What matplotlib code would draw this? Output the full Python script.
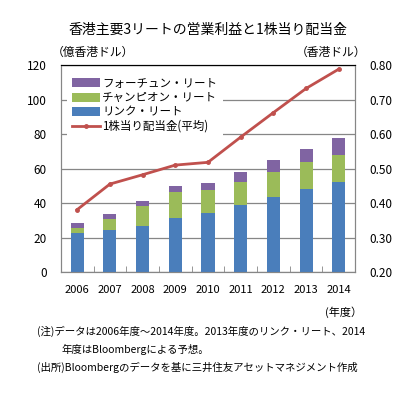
import matplotlib.pyplot as plt
import numpy as np

plt.rcParams['font.family'] = ['Noto Sans CJK JP', 'DejaVu Sans']

# data
years = ['2006', '2007', '2008', '2009', '2010', '2011', '2012', '2013', '2014']
link = [23.0, 24.6, 27.2, 31.8, 34.5, 39.1, 43.8, 48.4, 52.5]
champion = [3.0, 6.4, 11.3, 14.9, 13.5, 13.4, 14.5, 15.7, 15.6]
fortune = [2.5, 3.0, 2.9, 3.4, 3.9, 5.8, 6.9, 7.5, 9.9]
dividend = [0.382, 0.456, 0.483, 0.511, 0.519, 0.592, 0.663, 0.733, 0.789]

blue = '#4a7ebb'
green = '#9bbb59'
purple = '#8064a2'
red = '#c0504d'

fig = plt.figure(figsize=(4.11, 3.96), dpi=100)
ax = fig.add_axes([0.148, 0.312, 0.716, 0.523])
x = np.arange(len(years))
w = 0.4

link_a = np.array(link)
champ_a = np.array(champion)
b1 = ax.bar(x, link, w, color=blue, zorder=3)
b2 = ax.bar(x, champion, w, bottom=link_a, color=green, zorder=3)
b3 = ax.bar(x, fortune, w, bottom=link_a + champ_a, color=purple, zorder=3)

ax.set_xlim(-0.5, 8.5)
ax.set_ylim(0, 120)
ax.set_yticks(range(0, 121, 20))
ax.yaxis.grid(True, color='#868686', linewidth=0.9, zorder=0)
ax.set_xticks(x)
ax.set_xticklabels(years, fontsize=8)
ax.set_xticks(np.arange(0.5, 8.5, 1), minor=True)
ax.tick_params(axis='x', which='major', length=0, pad=9)
ax.tick_params(axis='x', which='minor', direction='in', length=4, color='#868686')
ax.tick_params(axis='y', length=0, labelsize=8.5, pad=10)
for s in ['left', 'bottom', 'right']:
    ax.spines[s].set_color('#868686')
ax.spines['top'].set_color('black')

ax2 = ax.twinx()
ln, = ax2.plot(x, dividend, color=red, linewidth=2, marker='o', markersize=2.5, zorder=4)
ax2.set_ylim(0.2, 0.8)
ax2.set_yticks(np.arange(0.2, 0.81, 0.1))
ax2.set_yticklabels(['%.2f' % v for v in np.arange(0.2, 0.81, 0.1)])
ax2.tick_params(axis='y', length=0, labelsize=8.5, pad=10)
for s in ['left', 'bottom', 'right']:
    ax2.spines[s].set_color('#868686')
ax2.spines['top'].set_color('black')

leg = ax2.legend([b3, b2, b1, ln],
                 ['フォーチュン・リート', 'チャンピオン・リート', 'リンク・リート', '1株当り配当金(平均)'],
                 loc='upper left', bbox_to_anchor=(0.0, 1.0), fontsize=8.3,
                 frameon=True, handlelength=2.4, handleheight=0.8,
                 labelspacing=0.12, handletextpad=0.2, borderpad=0.5,
                 fancybox=False, edgecolor='none', facecolor='white', framealpha=1)

fig.text(0.505, 0.925, '香港主要3リートの営業利益と1株当り配当金', ha='center', va='center', fontsize=10)
fig.text(0.125, 0.868, '（億香港ドル）', ha='left', va='center', fontsize=8.5)
fig.text(0.89, 0.868, '（香港ドル）', ha='right', va='center', fontsize=8.5)
fig.text(0.88, 0.212, '(年度）', ha='right', va='center', fontsize=8)
fig.text(0.09, 0.162, '(注)データは2006年度～2014年度。2013年度のリンク・リート、2014', ha='left', va='center', fontsize=7.5)
fig.text(0.15, 0.118, '年度はBloombergによる予想。', ha='left', va='center', fontsize=7.5)
fig.text(0.09, 0.073, '(出所)Bloombergのデータを基に三井住友アセットマネジメント作成', ha='left', va='center', fontsize=7.5)

fig.savefig('out.png', dpi=100)
